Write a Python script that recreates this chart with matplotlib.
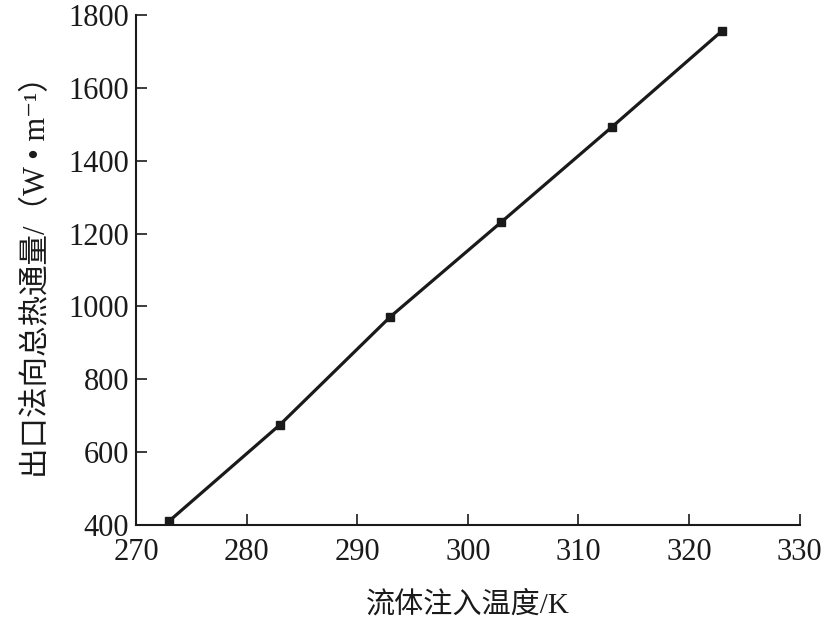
import matplotlib
matplotlib.use("Agg")
import matplotlib.pyplot as plt

# 数据
temperature = [273, 283, 293, 303, 313, 323]
heat_flux = [411, 675, 972, 1231, 1492, 1757]

x_ticks = [270, 280, 290, 300, 310, 320, 330]
y_ticks = [400, 600, 800, 1000, 1200, 1400, 1600, 1800]

x_label = "流体注入温度/K"
y_label = "出口法向总热通量/（W • m⁻¹）"

plt.rcParams['font.family'] = ['Liberation Serif', 'Noto Sans CJK SC', 'DejaVu Sans']

fig = plt.figure(figsize=(8.27, 6.25), dpi=100)
ax = fig.add_axes([0.1645, 0.16, 0.8025, 0.816])

ax.plot(temperature, heat_flux, color='#1a1a1a', lw=2.3,
        marker='s', markersize=5.5, markerfacecolor='#1a1a1a')

ax.set_xlim(270, 330)
ax.set_ylim(400, 1800)
ax.set_xticks(x_ticks)
ax.set_yticks(y_ticks)

for s in ['top', 'right']:
    ax.spines[s].set_visible(False)
for s in ['left', 'bottom']:
    ax.spines[s].set_linewidth(1.5)
    ax.spines[s].set_color('#1a1a1a')

ax.tick_params(direction='in', length=8, width=1.2, labelsize=22,
               colors='#1a1a1a')
ax.tick_params(axis='x', pad=9)
ax.tick_params(axis='y', pad=5)

ax.set_xlabel(x_label, fontsize=21, labelpad=18, color='#1a1a1a')
ax.set_ylabel(y_label, fontsize=22, labelpad=12, color='#1a1a1a')

fig.savefig("out.png", dpi=100)
